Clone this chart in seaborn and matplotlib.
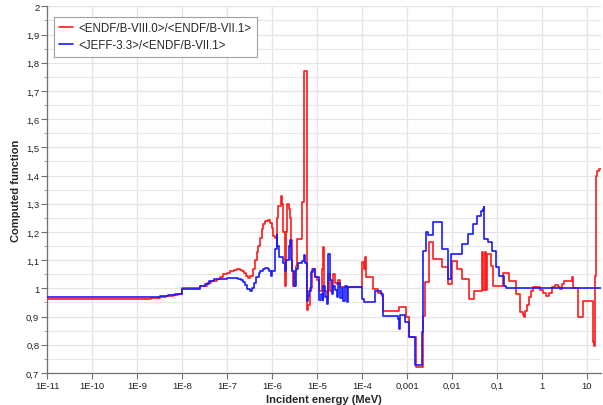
import numpy as np
import pandas as pd
import matplotlib
matplotlib.use("Agg")
import matplotlib.pyplot as plt
from matplotlib.ticker import FixedLocator, MultipleLocator, NullLocator
import seaborn as sns

# log10 of incident energy (MeV) at the start of each step, and the ratio held over that step
red_label = "<ENDF/B-VIII.0>/<ENDF/B-VII.1>"
red_log_e = [-11.0, -9.3, -9.0, -8.7, -8.5, -8.35, -8.2, -8.1, -8.0, -7.6, -7.45, -7.35,
             -7.23, -7.15, -7.08, -7.0, -6.93, -6.85, -6.785, -6.72, -6.674, -6.62, -6.57,
             -6.526, -6.48, -6.43, -6.378, -6.34, -6.304, -6.27, -6.23, -6.19, -6.156, -6.1,
             -6.05, -6.007, -5.97, -5.94, -5.9, -5.86, -5.807, -5.775, -5.745, -5.72, -5.705,
             -5.69, -5.665, -5.63, -5.6, -5.575, -5.545, -5.526, -5.49, -5.467, -5.44, -5.34,
             -5.29, -5.23, -5.22, -5.19, -5.156, -5.119, -5.044, -5.007, -4.948, -4.896,
             -4.859, -4.844, -4.785, -4.748, -4.711, -4.637, -4.6, -4.563, -4.526, -4.489,
             -4.007, -3.956, -3.933, -3.911, -3.748, -3.637, -3.563, -3.526, -3.17, -3.022,
             -2.948, -2.8, -2.652, -2.6, -2.504, -2.43, -2.23, -2.097, -2.008, -1.897, -1.771,
             -1.615, -1.512, -1.341, -1.319, -1.267, -1.245, -1.215, -1.141, -1.082, -0.874,
             -0.726, -0.578, -0.489, -0.43, -0.4, -0.37, -0.326, -0.281, -0.237, -0.193,
             -0.104, -0.044, 0.03, 0.089, 0.163, 0.215, 0.289, 0.363, 0.4, 0.437, 0.489,
             0.66, 0.682, 0.808, 0.919, 1.126, 1.156, 1.178, 1.2, 1.23, 1.274, 1.301]
red_ratio = [0.962, 0.963, 0.964, 0.966, 0.968, 0.972, 0.976, 0.98, 1.0, 1.01, 1.02, 1.025,
             1.035, 1.042, 1.05, 1.056, 1.062, 1.066, 1.068, 1.066, 1.062, 1.054, 1.045,
             1.036, 1.045, 1.07, 1.10, 1.13, 1.15, 1.18, 1.21, 1.23, 1.24, 1.243,
             1.232, 1.215, 1.187, 1.18, 1.25, 1.293, 1.326, 1.30, 1.20, 1.05, 1.01,
             1.20, 1.30, 1.28, 1.25, 1.17, 1.06, 1.01, 1.06, 1.08, 1.175, 1.306,
             1.77, 1.08, 0.925, 0.94, 1.0, 1.069, 1.04, 1.03, 0.99, 1.07,
             1.147, 0.99, 0.962, 1.05, 0.99, 1.05, 1.02, 1.015, 1.03, 1.004,
             1.093, 1.07, 1.11, 1.04, 0.998, 0.985, 0.974, 0.92, 0.934, 0.899,
             0.828, 0.72, 0.903, 1.022, 1.163, 1.104, 1.075, 1.016, 1.098, 1.069, 1.033,
             0.962, 0.992, 1.128, 0.995, 1.128, 0.995, 1.122, 1.08, 1.01, 1.054,
             1.025, 0.98, 0.915, 0.905, 0.897, 0.92, 0.94, 0.97, 0.99, 1.004,
             1.006, 0.995, 0.985, 0.974, 0.985, 1.006, 1.013, 1.005, 0.997, 1.015, 1.027,
             1.039, 1.0, 0.898, 0.956, 0.809, 0.797, 1.045, 1.40, 1.415, 1.423, 1.423]

blue_label = "<JEFF-3.3>/<ENDF/B-VII.1>"
blue_log_e = [-11.0, -9.2, -8.8, -8.5, -8.3, -8.15, -8.0, -7.6, -7.5, -7.4, -7.3, -7.2, -7.0,
              -6.75, -6.7, -6.65, -6.6, -6.55, -6.49, -6.44, -6.4, -6.356, -6.3, -6.267,
              -6.2, -6.156, -6.1, -6.06, -6.03, -5.99, -5.933, -5.896, -5.88, -5.837, -5.78,
              -5.75, -5.711, -5.68, -5.615, -5.6, -5.58, -5.55, -5.511, -5.47, -5.415, -5.34,
              -5.3, -5.27, -5.23, -5.207, -5.18, -5.141, -5.081, -5.044, -4.948, -4.919,
              -4.874, -4.859, -4.822, -4.785, -4.748, -4.711, -4.674, -4.637, -4.6, -4.563,
              -4.526, -4.489, -4.452, -4.415, -4.378, -4.341, -4.304, -4.007, -3.956, -3.711,
              -3.585, -3.526, -3.2, -3.17, -3.15, -3.04, -2.948, -2.82, -2.66, -2.652, -2.637,
              -2.578, -2.526, -2.415, -2.215, -2.082, -2.03, -1.785, -1.771, -1.652, -1.541,
              -1.437, -1.363, -1.32, -1.289, -1.282, -1.193, -1.119, -1.023, -0.948, -0.85,
              -0.8, 1.301]
blue_ratio = [0.968, 0.969, 0.971, 0.974, 0.977, 0.98, 0.998, 1.008, 1.015, 1.025, 1.032, 1.035, 1.037,
              1.035, 1.03, 1.022, 1.012, 0.998, 0.99, 1.0, 1.02, 1.039, 1.055, 1.063,
              1.07, 1.073, 1.07, 1.06, 1.045, 1.06, 1.14, 1.19, 1.15, 1.11, 1.11,
              1.09, 1.06, 1.10, 1.15, 1.17, 1.10, 1.06, 1.01, 1.07, 1.09, 1.098,
              1.12, 1.09, 0.956, 0.974, 0.99, 1.057, 1.07, 1.04, 0.96, 0.98,
              0.96, 1.01, 0.97, 0.945, 1.122, 1.03, 0.98, 1.01, 0.995, 0.97,
              1.02, 0.965, 1.0, 0.955, 1.01, 0.95, 1.004, 0.962, 0.953, 0.99,
              0.98, 0.903, 0.89, 0.856, 0.906, 0.88, 0.828, 0.728, 0.844, 0.903, 1.134,
              1.199, 1.189, 1.234, 1.14, 1.033, 1.122, 1.128, 1.157, 1.193, 1.228,
              1.258, 1.276, 1.283, 1.288, 1.175, 1.163, 1.134, 1.075, 1.045, 1.01,
              1.002, 1.002]

x_tick_values = [1e-11, 1e-10, 1e-9, 1e-8, 1e-7, 1e-6, 1e-5, 1e-4, 1e-3, 1e-2, 1e-1, 1, 10]
x_tick_labels = ["1E-11", "1E-10", "1E-9", "1E-8", "1E-7", "1E-6", "1E-5", "1E-4",
                 "0,001", "0,01", "0,1", "1", "10"]
y_tick_values = [0.7, 0.8, 0.9, 1.0, 1.1, 1.2, 1.3, 1.4, 1.5, 1.6, 1.7, 1.8, 1.9, 2.0]
y_tick_labels = ["0,7", "0,8", "0,9", "1", "1,1", "1,2", "1,3", "1,4", "1,5", "1,6",
                 "1,7", "1,8", "1,9", "2"]

sns.set_theme(style="white")
plt.rcParams["font.family"] = ["Liberation Sans", "DejaVu Sans"]

fig = plt.figure(figsize=(6.03, 4.06), dpi=100)
ax = fig.add_axes([47 / 603, 1 - 374 / 406, 553.5 / 603, 366.6 / 406])
ax.set_xscale("log")

red_df = pd.DataFrame({"energy": 10 ** np.array(red_log_e), "ratio": red_ratio})
blue_df = pd.DataFrame({"energy": 10 ** np.array(blue_log_e), "ratio": blue_ratio})

sns.lineplot(data=red_df, x="energy", y="ratio", ax=ax, color="#ff1a1a", lw=1.2,
             drawstyle="steps-post", estimator=None, sort=False, label=red_label, zorder=3)
sns.lineplot(data=blue_df, x="energy", y="ratio", ax=ax, color="#1a1aff", lw=1.2,
             drawstyle="steps-post", estimator=None, sort=False, label=blue_label, zorder=4)

ax.set_xlim(1e-11, 10 ** 1.3)
ax.set_ylim(0.7, 2.0)

ax.xaxis.set_major_locator(FixedLocator(x_tick_values))
ax.set_xticklabels(x_tick_labels)
ax.xaxis.set_minor_locator(NullLocator())
ax.yaxis.set_major_locator(FixedLocator(y_tick_values))
ax.set_yticklabels(y_tick_labels)
ax.yaxis.set_minor_locator(MultipleLocator(0.05))

ax.grid(True, which="major", axis="both", color="#e4e4e4", lw=0.9)
ax.grid(True, which="minor", axis="y", color="#e8e8e8", lw=0.9)
ax.set_axisbelow(True)

for side in ("top", "right"):
    ax.spines[side].set_visible(False)
for side in ("left", "bottom"):
    ax.spines[side].set_color("#707070")
    ax.spines[side].set_linewidth(0.9)

ax.tick_params(axis="both", which="major", direction="out", length=4, width=0.8,
               color="#707070", labelsize=6.8, labelcolor="#222222", pad=1.5,
               bottom=True, left=True)
ax.tick_params(axis="y", which="minor", direction="out", length=2.5, width=0.6,
               color="#909090", left=True)

ax.set_xlabel("Incident energy (MeV)", fontsize=8, fontweight="bold", labelpad=3)
ax.set_ylabel("Computed function", fontsize=8, fontweight="bold", labelpad=4)

leg = ax.legend(loc="upper left", bbox_to_anchor=(0.012, 0.971), fontsize=8.3,
                frameon=True, fancybox=False, edgecolor="#a0a0a0", framealpha=1,
                handlelength=1.2, handletextpad=0.5, borderpad=0.45, labelspacing=0.45,
                borderaxespad=0)
leg.get_frame().set_linewidth(0.8)

fig.savefig("out.png", dpi=100)
